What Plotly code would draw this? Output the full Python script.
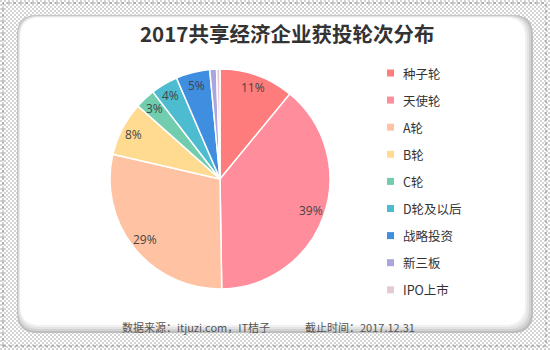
import math
import plotly.graph_objects as go

# Funding-round distribution of sharing-economy companies, 2017 (share, %)
rounds = ["种子轮", "天使轮", "A轮", "B轮", "C轮", "D轮及以后", "战略投资", "新三板", "IPO上市"]
shares = [11, 39, 29, 8, 3, 4, 5, 1, 0.5]
colors = ["#FF7C7C", "#FF8D9B", "#FFC3A3", "#FFDB92", "#72CDAE", "#4DBCD0",
          "#3F8EE0", "#A9A5DE", "#E6C9D3"]

title_text = "2017共享经济企业获投轮次分布"
source_text = "数据来源：itjuzi.com，IT桔子"
date_text = "截止时间：2017.12.31"

W, H = 550, 350
CJK = "Noto Sans CJK SC"


def px(x):
    return x / W


def py(y):
    return 1 - y / H


def rounded_rect(x0, y0, x1, y1, r):
    rx, ry = r / W, r / H
    a, b, c, d = px(x0), py(y0), px(x1), py(y1)
    return (f"M {a + rx},{b} L {c - rx},{b} Q {c},{b} {c},{b - ry} "
            f"L {c},{d + ry} Q {c},{d} {c - rx},{d} "
            f"L {a + rx},{d} Q {a},{d} {a},{d + ry} "
            f"L {a},{b - ry} Q {a},{b} {a + rx},{b} Z")


def label(text, x, y, size, color, family=CJK, xanchor="center"):
    return dict(text=text, x=px(x), y=py(y), xref="paper", yref="paper",
                xanchor=xanchor, yanchor="middle", showarrow=False,
                font=dict(family=family, size=size, color=color))


# Pie geometry (pixels)
cx, cy, R = 220, 179, 110

fig = go.Figure()
fig.add_trace(go.Pie(
    labels=rounds, values=shares, sort=False, direction="clockwise", rotation=0,
    marker=dict(colors=colors, line=dict(color="white", width=1.5)),
    textinfo="none", hoverinfo="label+percent", showlegend=False,
    domain=dict(x=[px(cx - R), px(cx + R)], y=[py(cy + R), py(cy - R)]),
))

# Checkered backdrop as an inline SVG
checker = ("data:image/svg+xml;utf8,"
           "<svg xmlns='http://www.w3.org/2000/svg' width='550' height='350'>"
           "<defs><pattern id='p' width='4' height='4' patternUnits='userSpaceOnUse'>"
           "<rect width='4' height='4' fill='%23ffffff'/>"
           "<rect width='2' height='2' fill='%23d4d4d4'/>"
           "<rect x='2' y='2' width='2' height='2' fill='%23d4d4d4'/>"
           "</pattern></defs><rect width='550' height='350' fill='url(%23p)'/></svg>")

images = [dict(source=checker, xref="paper", yref="paper", x=0, y=1,
               sizex=1, sizey=1, sizing="stretch", layer="below")]

shapes = [
    dict(type="rect", xref="paper", yref="paper", x0=px(3), y0=py(346), x1=px(546), y1=py(3),
         line=dict(color="#8a8a8a", width=1, dash="dot"), layer="below"),
]
# Card with a soft grey edge, heavier towards the lower right
for inset, col in [(0, "#bdbdbd"), (2, "#d2d2d2"), (4, "#e3e3e3"), (6, "#f1f1f1"), (8, "#ffffff")]:
    shapes.append(dict(type="path", xref="paper", yref="paper",
                       path=rounded_rect(17 + inset * 0.4, 15 + inset * 0.3,
                                         533 - inset, 333 - inset, 20),
                       fillcolor=col, line=dict(width=0), layer="below"))

annotations = [
    label(f"<b>{title_text}</b>", 287, 33, 20.5, "#333333"),
    label(source_text, 120, 327, 11, "#555555", xanchor="left"),
    label(date_text, 303, 327, 11, "#555555", xanchor="left"),
]

# Percentage labels placed inside each slice, derived from the shares
total = sum(shares)
cum = 0.0
for name, v in zip(rounds, shares):
    frac = v / total
    mid = (cum + frac / 2) * 2 * math.pi
    cum += frac
    pct = round(frac * 100)
    if pct < 3:
        continue
    lx = cx + 0.88 * R * math.sin(mid)
    ly = cy - 0.88 * R * math.cos(mid)
    annotations.append(label(f"{pct}%", lx, ly, 12, "#444444", family="Open Sans"))

# Legend column
for i, (name, col) in enumerate(zip(rounds, colors)):
    yy = 73 + i * 27.1
    shapes.append(dict(type="rect", xref="paper", yref="paper",
                       x0=px(387), x1=px(394), y0=py(yy + 3.5), y1=py(yy - 3.5),
                       fillcolor=col, line=dict(width=0)))
    annotations.append(label(name, 401, yy, 12.5, "#333333", xanchor="left"))

fig.update_layout(
    width=W, height=H, margin=dict(l=0, r=0, t=0, b=0),
    paper_bgcolor="white", plot_bgcolor="white",
    images=images, shapes=shapes, annotations=annotations,
)

fig.write_html("out.html")
